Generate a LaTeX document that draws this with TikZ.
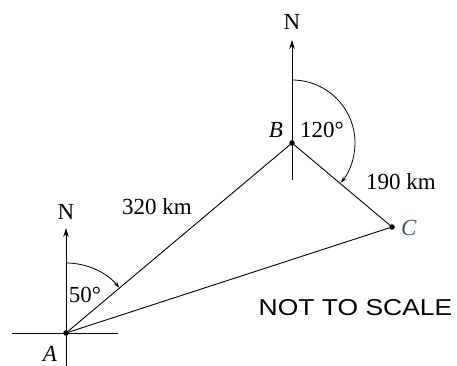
\documentclass[tikz,border=0pt]{standalone}
\usepackage{fontspec}
\setmainfont{Liberation Serif}
\newfontfamily\notefont{Liberation Sans}
\usetikzlibrary{arrows.meta}
\definecolor{clabel}{rgb}{0.22,0.33,0.48}
\begin{document}
\begin{tikzpicture}[x=1pt,y=1pt,
  line/.style={line width=0.9pt},
  pt/.style={circle,fill,inner sep=0pt,minimum size=5.5pt},
  lbl/.style={font=\fontsize{23}{26}\selectfont, inner sep=0pt},
  northarrow/.style={line width=0.9pt,-{Stealth[length=9pt,width=5.5pt]}},
  anglearrow/.style={line width=0.8pt,-{Stealth[length=6pt,width=4pt]}}]
\useasboundingbox (0,0) rectangle (457,366);
% points
\node[pt] (A) at (66,33) {};
\node[pt] (B) at (292,223) {};
\node[pt] (C) at (392,139) {};
% compass at A
\coordinate (SA) at (66,0);
\coordinate (NA) at (66,138);
\coordinate (WA) at (12,33);
\coordinate (EA) at (118,33);
\draw[northarrow] (SA) -- (NA);
\draw[line] (WA) -- (EA);
\node[lbl] (nA) at (66,154) {N};
% compass at B
\coordinate (SB) at (292,186);
\coordinate (NB) at (292,326);
\draw[northarrow] (SB) -- (NB);
\node[lbl] (nB) at (292,344) {N};
% triangle sides
\draw[line] (A.center) -- (B.center);
\draw[line] (B.center) -- (C.center);
\draw[line] (A.center) -- (C.center);
% angle arcs
\draw[anglearrow] ([shift={(90:70)}]A.center) arc[start angle=90,end angle=40.5,radius=70];
\draw[anglearrow] ([shift={(90:63)}]B.center) arc[start angle=90,end angle=-39,radius=63];
% labels
\node[lbl] (lA) at (50,12) {\textit{A}};
\node[lbl] (lB) at (276,236) {\textit{B}};
\node[lbl,text=clabel] (lC) at (409,138) {\textit{C}};
\node[lbl] (a50) at (85,71) {50°};
\node[lbl] (a120) at (322,236) {120°};
\node[lbl] (d320) at (157,159) {320 km};
\node[lbl] (d190) at (401,184) {190 km};
\node[inner sep=0pt] (note) at (355.5,58) {\scalebox{1.15}[1]{\notefont\fontsize{23}{26}\selectfont NOT TO SCALE}};
\end{tikzpicture}
\end{document}
